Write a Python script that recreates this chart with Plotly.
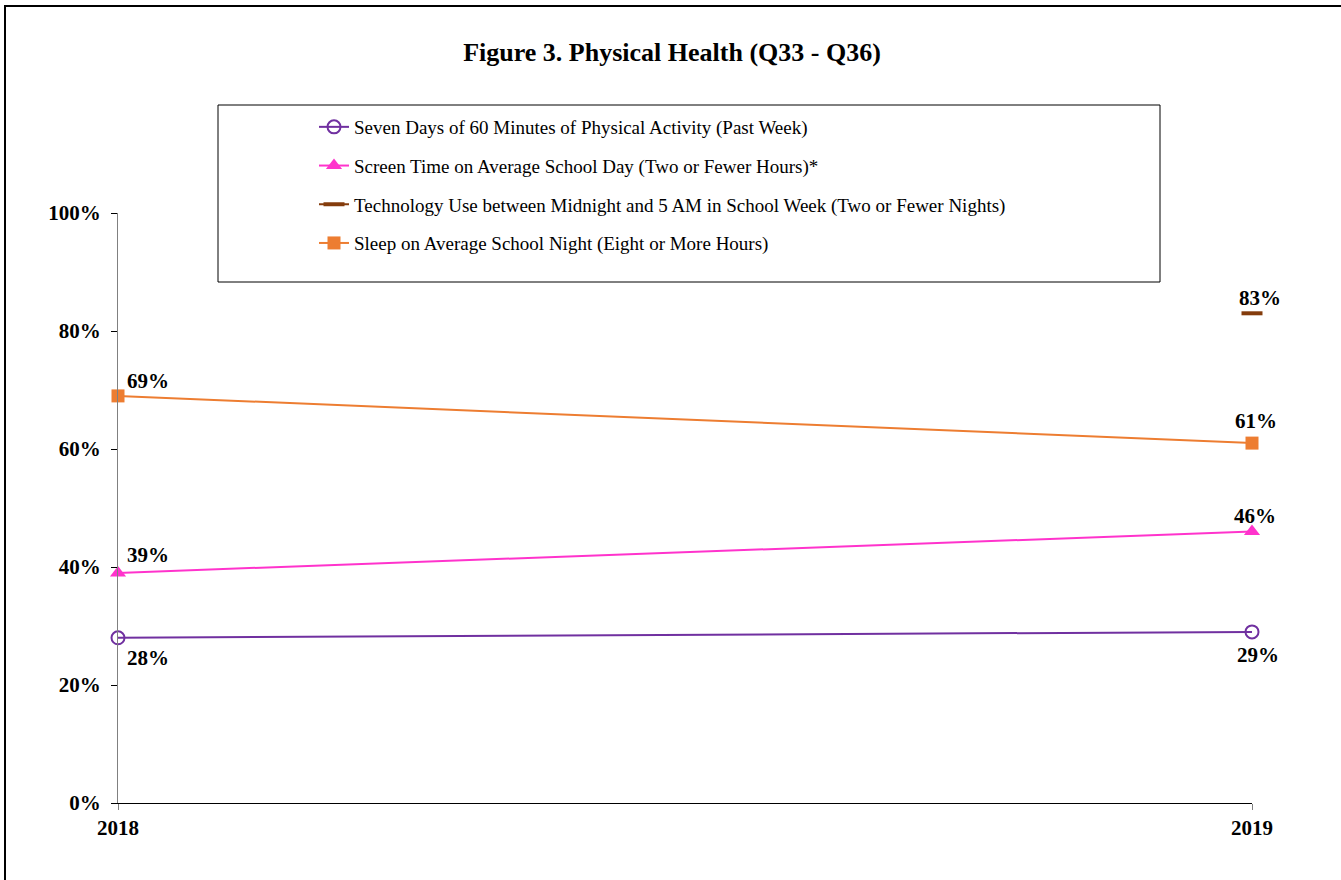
import plotly.graph_objects as go

# Survey years and percentages for each indicator
years = [2018, 2019]
physical_activity = [28, 29]
screen_time = [39, 46]
tech_use = [None, 83]
sleep = [69, 61]

series_names = [
    "Seven Days of 60 Minutes of Physical Activity (Past Week)",
    "Screen Time on Average School Day (Two or Fewer Hours)*",
    "Technology Use between Midnight and 5 AM in School Week (Two or Fewer Nights)",
    "Sleep on Average School Night (Eight or More Hours)",
]
y_ticks = [0, 20, 40, 60, 80, 100]
y_tick_text = ["0%", "20%", "40%", "60%", "80%", "100%"]

SERIF = "Liberation Serif, Times New Roman, serif"

styles = [
    dict(color="#7030A0", marker=dict(symbol="circle-open", size=13, color="#7030A0",
                                      line=dict(width=2, color="#7030A0")),
         shifts=[(30, -20), (6, -23)]),
    dict(color="#FF33CC", marker=dict(symbol="triangle-up", size=14, color="#FF33CC"),
         shifts=[(30, 18), (3, 16)]),
    dict(color="#843C0C", marker=dict(symbol="line-ew", size=15, color="#843C0C",
                                      line=dict(width=4, color="#843C0C")),
         shifts=[(0, 0), (8, 15)]),
    dict(color="#ED7D31", marker=dict(symbol="square", size=13, color="#ED7D31"),
         shifts=[(30, 15), (4, 22)]),
]

all_values = [physical_activity, screen_time, tech_use, sleep]

fig = go.Figure()
annotations = []
for i, (name, vals, st) in enumerate(zip(series_names, all_values, styles)):
    fig.add_trace(go.Scatter(
        x=years, y=vals, name=name, mode="lines+markers",
        line=dict(color=st["color"], width=2),
        marker=st["marker"], cliponaxis=False, legendgroup=f"g{i}",
    ))
    for x, v, (dx, dy) in zip(years, vals, st["shifts"]):
        if v is None:
            continue
        annotations.append(dict(
            x=x, y=v, xref="x", yref="y", text=f"{v}%", showarrow=False,
            xshift=dx, yshift=dy,
            font=dict(family=SERIF, size=21, color="black", weight="bold"),
        ))

# plot area in pixels: x 118..1252, y 213..803
W, H = 1341, 880
L, R, T, B = 118, 89, 213, 77
pw, ph = W - L - R, H - T - B


def px_x(p):
    return (p - L) / pw


def px_y(p):
    return (H - B - p) / ph


shapes = [
    # outer frame
    dict(type="rect", xref="paper", yref="paper",
         x0=px_x(5), x1=px_x(1400), y0=px_y(940), y1=px_y(6),
         line=dict(color="black", width=2), layer="below"),
    # legend frame
    dict(type="rect", xref="paper", yref="paper",
         x0=px_x(218), x1=px_x(1160), y0=px_y(282), y1=px_y(105),
         line=dict(color="black", width=1), fillcolor="white", layer="above"),
]

fig.update_layout(
    width=W, height=H,
    margin=dict(l=L, r=R, t=T, b=B),
    paper_bgcolor="white", plot_bgcolor="white",
    title=dict(text="<b>Figure 3. Physical Health (Q33 - Q36)</b>",
               x=672 / W, xanchor="center", xref="container", y=1 - 52 / H, yanchor="middle",
               font=dict(family=SERIF, size=26, color="black")),
    font=dict(family=SERIF, color="black"),
    xaxis=dict(range=[2018, 2019], tickvals=years, ticktext=[str(y) for y in years],
               showgrid=False, zeroline=False, showline=True, linecolor="black",
               linewidth=1, ticks="outside", ticklen=6, tickcolor="#808080",
               tickfont=dict(family=SERIF, size=21, color="black", weight="bold")),
    yaxis=dict(range=[0, 100], tickvals=y_ticks, ticktext=y_tick_text,
               showgrid=False, zeroline=False, showline=True, linecolor="#808080",
               linewidth=1, ticks="outside", ticklen=6, tickcolor="black",
               ticklabelstandoff=6,
               tickfont=dict(family=SERIF, size=21, color="black", weight="bold")),
    showlegend=True,
    legend=dict(x=px_x(314), xanchor="left", y=px_y(108), yanchor="top",
                bgcolor="rgba(0,0,0,0)", borderwidth=0, tracegroupgap=11,
                font=dict(family=SERIF, size=19, color="black")),
    annotations=annotations,
    shapes=shapes,
)

fig.write_html("out.html")
